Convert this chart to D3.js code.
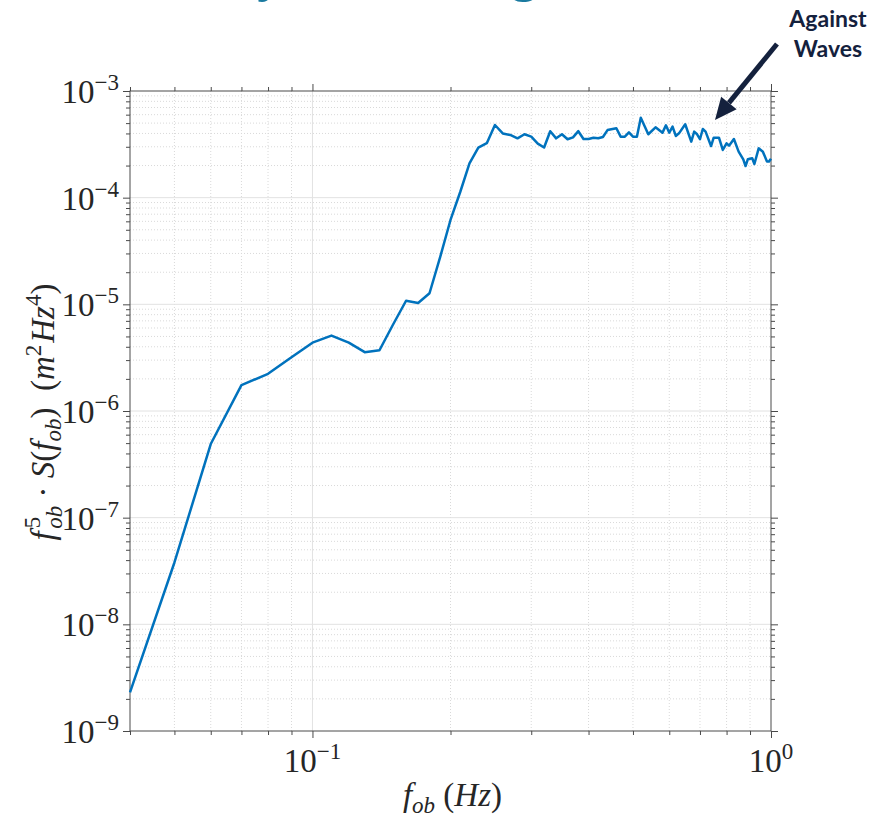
<!DOCTYPE html>
<html>
<head>
<meta charset="utf-8">
<script src="https://cdn.jsdelivr.net/npm/d3@7"></script>
<style>
  html, body { margin: 0; padding: 0; background: #fff; }
  svg { display: block; }
</style>
</head>
<body>
<div id="chart"></div>
<script>
// encounter frequency (Hz) and f^5 * S(f) (m^2 Hz^4)
const fob = [
  0.04, 0.05, 0.06, 0.07, 0.08, 0.09, 0.10, 0.11, 0.12, 0.13,
  0.14, 0.15, 0.16, 0.17, 0.18, 0.19, 0.20, 0.21, 0.22, 0.23,
  0.24, 0.25, 0.26, 0.27, 0.28, 0.29, 0.30, 0.31, 0.32, 0.33,
  0.34, 0.35, 0.36, 0.37, 0.38, 0.39, 0.40, 0.41, 0.42, 0.43,
  0.44, 0.46, 0.47, 0.48, 0.49, 0.50, 0.51, 0.52, 0.54, 0.56,
  0.58, 0.59, 0.60, 0.61, 0.62, 0.63, 0.65, 0.67, 0.68, 0.69,
  0.70, 0.71, 0.72, 0.74, 0.75, 0.77, 0.785, 0.80, 0.81, 0.83,
  0.85, 0.87, 0.88, 0.89, 0.91, 0.92, 0.94, 0.96, 0.98, 0.99, 1.00
];
const spec = [
  2.3e-9, 3.8e-8, 4.9e-7, 1.75e-6, 2.23e-6, 3.19e-6, 4.37e-6, 5.09e-6, 4.37e-6, 3.56e-6,
  3.71e-6, 6.5e-6, 1.08e-5, 1.03e-5, 1.27e-5, 2.8e-5, 6.18e-5, 1.13e-4, 2.1e-4, 2.94e-4,
  3.24e-4, 4.8e-4, 4.0e-4, 3.87e-4, 3.6e-4, 3.93e-4, 3.73e-4, 3.21e-4, 2.95e-4, 4.2e-4,
  3.6e-4, 3.93e-4, 3.53e-4, 3.68e-4, 4.2e-4, 3.55e-4, 3.55e-4, 3.65e-4, 3.6e-4, 3.7e-4,
  4.3e-4, 4.47e-4, 3.73e-4, 3.73e-4, 4.1e-4, 3.73e-4, 3.73e-4, 5.62e-4, 3.93e-4, 4.57e-4,
  4.07e-4, 4.77e-4, 4.07e-4, 4.63e-4, 3.79e-4, 4.01e-4, 4.88e-4, 3.35e-4, 4.16e-4, 3.93e-4,
  3.53e-4, 4.4e-4, 4.16e-4, 3.05e-4, 3.65e-4, 3.65e-4, 2.8e-4, 3.23e-4, 3.07e-4, 3.55e-4,
  2.7e-4, 2.29e-4, 1.98e-4, 2.29e-4, 2.34e-4, 2.07e-4, 2.9e-4, 2.7e-4, 2.18e-4, 2.18e-4, 2.32e-4
];

const xDomain = [0.04, 1];
const yDomain = [1e-9, 1e-3];
const xMajor = [0.1, 1];
const xMinor = [0.04, 0.05, 0.06, 0.07, 0.08, 0.09, 0.2, 0.3, 0.4, 0.5, 0.6, 0.7, 0.8, 0.9];
const xTickExp = ['\u22121', '0'];
const yExp = [-3, -4, -5, -6, -7, -8, -9];

(function () {
  const W = 872, H = 819;
  const L = 130, R = 771, T = 91, B = 731;
  const axisCol = '#4a4a4a';
  const lineCol = '#0072bd';
  const mathFont = "'Liberation Serif', 'Times New Roman', serif";
  const fs = 33, fsSmall = 23;

  const svg = d3.select('#chart').append('svg')
    .attr('width', W).attr('height', H);

  const x = d3.scaleLog().domain(xDomain).range([L, R]);
  const y = d3.scaleLog().domain(yDomain).range([B, T]);

  // y minor values 2..9 per decade
  const yMinor = [];
  yExp.slice(1).forEach(e => {
    for (let k = 2; k <= 9; k++) yMinor.push(k * Math.pow(10, e));
  });
  const yMajor = yExp.map(e => Math.pow(10, e));

  // grid
  const grid = svg.append('g');
  grid.selectAll('.gxm').data(xMinor.filter(v => v > xDomain[0])).enter().append('line')
    .attr('x1', d => x(d)).attr('x2', d => x(d)).attr('y1', T).attr('y2', B)
    .attr('stroke', '#d9d9d9').attr('stroke-dasharray', '1,2').attr('stroke-width', 1);
  grid.selectAll('.gym').data(yMinor).enter().append('line')
    .attr('x1', L).attr('x2', R).attr('y1', d => y(d)).attr('y2', d => y(d))
    .attr('stroke', '#d9d9d9').attr('stroke-dasharray', '1,2').attr('stroke-width', 1);
  grid.selectAll('.gxM').data(xMajor.filter(v => v < xDomain[1])).enter().append('line')
    .attr('x1', d => x(d)).attr('x2', d => x(d)).attr('y1', T).attr('y2', B)
    .attr('stroke', '#e2e2e2').attr('stroke-width', 1);
  grid.selectAll('.gyM').data(yMajor.slice(1, -1)).enter().append('line')
    .attr('x1', L).attr('x2', R).attr('y1', d => y(d)).attr('y2', d => y(d))
    .attr('stroke', '#e2e2e2').attr('stroke-width', 1);

  // ticks (outward) on all four sides
  function ticks(axisFn, scale, vals, size, transform) {
    const g = svg.append('g').attr('transform', transform)
      .call(axisFn(scale).tickValues(vals).tickSize(size).tickSizeOuter(0).tickFormat(''));
    g.select('.domain').remove();
    g.selectAll('line').attr('stroke', axisCol);
  }
  ticks(d3.axisBottom, x, xMinor, 4, `translate(0,${B})`);
  ticks(d3.axisBottom, x, xMajor, 7, `translate(0,${B})`);
  ticks(d3.axisTop, x, xMinor, 4, `translate(0,${T})`);
  ticks(d3.axisTop, x, xMajor, 7, `translate(0,${T})`);
  ticks(d3.axisLeft, y, yMinor, 4, `translate(${L},0)`);
  ticks(d3.axisLeft, y, yMajor, 7, `translate(${L},0)`);
  ticks(d3.axisRight, y, yMinor, 4, `translate(${R},0)`);
  ticks(d3.axisRight, y, yMajor, 7, `translate(${R},0)`);

  svg.append('rect').attr('x', L).attr('y', T).attr('width', R - L).attr('height', B - T)
    .attr('fill', 'none').attr('stroke', axisCol).attr('stroke-width', 1);

  // data line
  const pts = fob.map((f, i) => [f, spec[i]]);
  svg.append('path').datum(pts)
    .attr('d', d3.line().x(d => x(d[0])).y(d => y(d[1])))
    .attr('fill', 'none').attr('stroke', lineCol).attr('stroke-width', 2.5)
    .attr('stroke-linejoin', 'round');

  // tick labels: 10^n
  xMajor.forEach((v, i) => {
    const t = svg.append('text').attr('x', x(v)).attr('y', 772)
      .attr('text-anchor', 'middle').attr('font-family', mathFont)
      .attr('font-size', fs).attr('fill', '#262626');
    t.append('tspan').text('10');
    t.append('tspan').attr('dy', -13).attr('font-size', fsSmall).text(xTickExp[i]);
  });
  yMajor.forEach((v, i) => {
    const t = svg.append('text').attr('x', 119).attr('y', y(v) + 12)
      .attr('text-anchor', 'end').attr('font-family', mathFont)
      .attr('font-size', fs).attr('fill', '#262626');
    t.append('tspan').text('10');
    t.append('tspan').attr('dy', -13).attr('font-size', fsSmall)
      .text('\u2212' + Math.abs(yExp[i]));
  });

  // axis labels
  const xl = svg.append('text').attr('x', (L + R) / 2 + 2).attr('y', 806)
    .attr('text-anchor', 'middle').attr('font-family', mathFont)
    .attr('font-size', fs).attr('fill', '#262626');
  xl.append('tspan').attr('font-style', 'italic').text('f');
  xl.append('tspan').attr('font-style', 'italic').attr('font-size', fsSmall).attr('dy', 7).text('ob');
  xl.append('tspan').attr('dy', -7).text(' (');
  xl.append('tspan').attr('font-style', 'italic').text('Hz');
  xl.append('tspan').text(')');

  const yl = svg.append('text').attr('transform', 'translate(54,412) rotate(-90)')
    .attr('text-anchor', 'middle').attr('font-family', mathFont)
    .attr('font-size', fs).attr('fill', '#262626');
  yl.append('tspan').attr('font-style', 'italic').text('f');
  yl.append('tspan').attr('font-size', fsSmall).attr('dy', -14).attr('dx', 3).text('5');
  yl.append('tspan').attr('font-style', 'italic').attr('font-size', fsSmall).attr('dy', 22).attr('dx', -12).text('ob');
  yl.append('tspan').attr('dy', -8).text(' \u00b7 ');
  yl.append('tspan').attr('font-style', 'italic').text('S');
  yl.append('tspan').text('(');
  yl.append('tspan').attr('font-style', 'italic').text('f');
  yl.append('tspan').attr('font-style', 'italic').attr('font-size', fsSmall).attr('dy', 7).text('ob');
  yl.append('tspan').attr('dy', -7).text(')\u2002(');
  yl.append('tspan').attr('font-style', 'italic').text('m');
  yl.append('tspan').attr('font-size', fsSmall).attr('dy', -13).text('2');
  yl.append('tspan').attr('font-style', 'italic').attr('dy', 13).attr('dx', 2).text('Hz');
  yl.append('tspan').attr('font-size', fsSmall).attr('dy', -13).text('4');
  yl.append('tspan').attr('dy', 13).text(')');

  // slide title, cut off by the top edge
  const titleCol = '#1a7aa0';
  svg.append('text').attr('x', 283).attr('y', -10).attr('text-anchor', 'end')
    .attr('font-family', "'Open Sans', sans-serif").attr('font-size', 50)
    .attr('fill', titleCol).text('Sensitivity');
  svg.append('text').attr('x', 538).attr('y', -10).attr('text-anchor', 'end')
    .attr('font-family', "'Open Sans', sans-serif").attr('font-size', 50)
    .attr('fill', titleCol).text('to Heading');

  // annotation
  const navy = '#14213d';
  const ann = svg.append('text').attr('font-family', "Lato, 'Open Sans', sans-serif")
    .attr('font-weight', 700).attr('font-size', 23).attr('fill', navy)
    .attr('text-anchor', 'middle');
  ann.append('tspan').attr('x', 828).attr('y', 27).text('Against');
  ann.append('tspan').attr('x', 828).attr('y', 57).text('Waves');

  const ax1 = 777, ay1 = 44, ax2 = 715, ay2 = 120;
  const ang = Math.atan2(ay2 - ay1, ax2 - ax1);
  const headLen = 22, headW = 10;
  const bx = ax2 - headLen * Math.cos(ang), by = ay2 - headLen * Math.sin(ang);
  svg.append('line').attr('x1', ax1).attr('y1', ay1).attr('x2', bx).attr('y2', by)
    .attr('stroke', navy).attr('stroke-width', 5);
  const nx = -Math.sin(ang), ny = Math.cos(ang);
  svg.append('polygon')
    .attr('points', [[ax2, ay2], [bx + nx * headW, by + ny * headW], [bx - nx * headW, by - ny * headW]]
      .map(p => p.join(',')).join(' '))
    .attr('fill', navy);
})();
</script>
</body>
</html>
